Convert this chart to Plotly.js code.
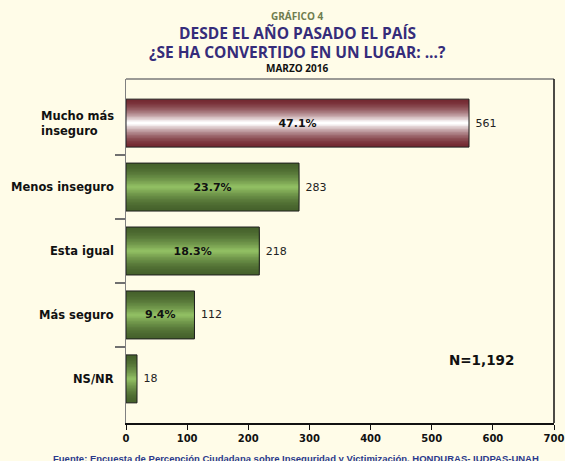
<!DOCTYPE html>
<html><head><meta charset="utf-8">
<script src="https://cdn.plot.ly/plotly-3.0.1.min.js"></script>
<style>html,body{margin:0;padding:0;background:#fffce8}</style>
</head><body>
<div id="chart" style="width:565px;height:461px"></div>
<script>
// ---- data ----
const categories = ["Mucho más inseguro", "Menos inseguro", "Esta igual", "Más seguro", "NS/NR"];
const categoryLabels = ["Mucho más<br>inseguro", "Menos inseguro", "Esta igual", "Más seguro", "NS/NR"];
const counts = [561, 283, 218, 112, 18];
const percents = ["47.1%", "23.7%", "18.3%", "9.4%", ""];
const xTicks = [0, 100, 200, 300, 400, 500, 600, 700];
const sampleLabel = "N=1,192";
const titleSup = "GRÁFICO 4";
const titleLine1 = "DESDE EL AÑO PASADO EL PAÍS";
const titleLine2 = "¿SE HA CONVERTIDO EN UN LUGAR: ...?";
const titleSub = "MARZO 2016";
const source = "Fuente: Encuesta de Percepción Ciudadana sobre Inseguridad y Victimización, HONDURAS- IUDPAS-UNAH";

// ---- styles ----
const BG = "#fffce8";
const BAR_W = 0.75;
const LAYERS = 16;
const edgeCol = i => i === 0 ? [116, 42, 50] : [70, 98, 44];
const midCol  = i => i === 0 ? [255, 255, 255] : [144, 190, 98];
function mix(a, b, t) { return "rgb(" + a.map((v, j) => Math.round(v + (b[j] - v) * t)).join(",") + ")"; }

const traces = [];
for (let k = 0; k < LAYERS; k++) {
  const t = Math.pow(k / (LAYERS - 1), 1.6);
  traces.push({
    type: "bar", orientation: "h",
    x: counts, y: categories,
    width: BAR_W * (1 - k / LAYERS),
    marker: { color: counts.map((_, i) => mix(edgeCol(i), midCol(i), t)), line: { width: 0 } },
    hoverinfo: "skip", showlegend: false
  });
}
// outline + percentage labels
traces.push({
  type: "bar", orientation: "h",
  x: counts, y: categories, width: BAR_W,
  marker: { color: "rgba(0,0,0,0)", line: { color: "#1e1e1e", width: 1 } },
  text: percents, textposition: "inside", insidetextanchor: "middle", constraintext: "none",
  textfont: { family: "DejaVu Sans", size: 11, weight: "bold", color: "#111" },
  hoverinfo: "skip", showlegend: false
});
// value labels
traces.push({
  type: "bar", orientation: "h",
  x: counts, y: categories, width: BAR_W,
  marker: { color: "rgba(0,0,0,0)", line: { width: 0 } },
  text: counts.map(v => "\u00a0" + v), textposition: "outside", constraintext: "none", cliponaxis: false,
  textfont: { family: "DejaVu Sans", size: 11, color: "#222" },
  hoverinfo: "skip", showlegend: false
});
// carrier for boundary ticks axis
traces.push({ type: "scatter", x: [], y: [], yaxis: "y2", hoverinfo: "skip", showlegend: false });

const n = categories.length;
const yRange = [n - 1 + 0.69, -0.69];

const annotations = categories.map((c, i) => ({
  x: 0, xref: "paper", y: c, yref: "y", xanchor: "right", yanchor: "middle", xshift: -10,
  text: categoryLabels[i], align: "left", showarrow: false,
  font: { family: "DejaVu Sans", size: 11.5, weight: "bold", color: "#111" }
}));
const titleFont = { family: "Open Sans", size: 15.5, weight: "bold", color: "#352c7a" };
annotations.push(
  { x: 0.40, xref: "paper", xanchor: "center", y: 1.183, yref: "paper", yanchor: "middle", text: titleSup, showarrow: false,
    borderpad: 0, font: { family: "Open Sans", size: 10, weight: "bold", color: "#6f7d4f" } },
  { x: 0.40, xref: "paper", xanchor: "center", y: 1.135, yref: "paper", yanchor: "middle", text: titleLine1, showarrow: false,
    borderpad: 0, font: titleFont },
  { x: 0.40, xref: "paper", xanchor: "center", y: 1.079, yref: "paper", yanchor: "middle", text: titleLine2, showarrow: false,
    borderpad: 0, font: titleFont },
  { x: 0.40, xref: "paper", xanchor: "center", y: 1.032, yref: "paper", yanchor: "middle", text: titleSub, showarrow: false,
    borderpad: 0, font: { family: "Open Sans", size: 10, weight: "bold", color: "#111" } },
  { x: 0.83, xref: "paper", xanchor: "center", y: 0.183, yref: "paper", yanchor: "middle", text: sampleLabel, showarrow: false,
    font: { family: "DejaVu Sans", size: 13.5, weight: "bold", color: "#111" } },
  { x: -0.175, xref: "paper", xanchor: "left", y: -0.08, yref: "paper", yanchor: "top", text: source, showarrow: false,
    font: { family: "Liberation Sans", size: 9.5, weight: "bold", color: "#2b3a8c" } }
);

const layout = {
  width: 565, height: 461,
  margin: { l: 126, r: 11, t: 79, b: 38, pad: 0 },
  paper_bgcolor: BG, plot_bgcolor: BG,
  barmode: "overlay", hovermode: false, showlegend: false,
  xaxis: {
    range: [0, 700], tickvals: xTicks, ticktext: xTicks.map(String),
    ticks: "outside", ticklen: 5, tickcolor: "#111", tickwidth: 1,
    showline: true, linecolor: "#111", linewidth: 1.5,
    showgrid: false, zeroline: false,
    tickfont: { family: "DejaVu Sans", size: 10, weight: "bold", color: "#111" }
  },
  yaxis: {
    type: "category", categoryorder: "array", categoryarray: categories,
    range: yRange, showticklabels: false, ticks: "",
    showline: true, linecolor: "#808080", linewidth: 1.5,
    showgrid: false, zeroline: false
  },
  yaxis2: {
    overlaying: "y", side: "left", range: yRange,
    tickvals: categories.slice(1).map((_, i) => i + 0.5),
    ticks: "outside", ticklen: 10, tickcolor: "#707070", tickwidth: 1.2,
    showticklabels: false, showline: false, showgrid: false, zeroline: false
  },
  shapes: [
    { type: "line", xref: "paper", yref: "paper", x0: 0, x1: 1, y0: 1, y1: 1, line: { color: "#7a7a7a", width: 1.5 } },
    { type: "line", xref: "paper", yref: "paper", x0: 1, x1: 1, y0: 0, y1: 1, line: { color: "#111", width: 1.5 } }
  ],
  annotations: annotations
};

Plotly.newPlot("chart", traces, layout, { displayModeBar: false, staticPlot: true });
</script>
</body></html>
